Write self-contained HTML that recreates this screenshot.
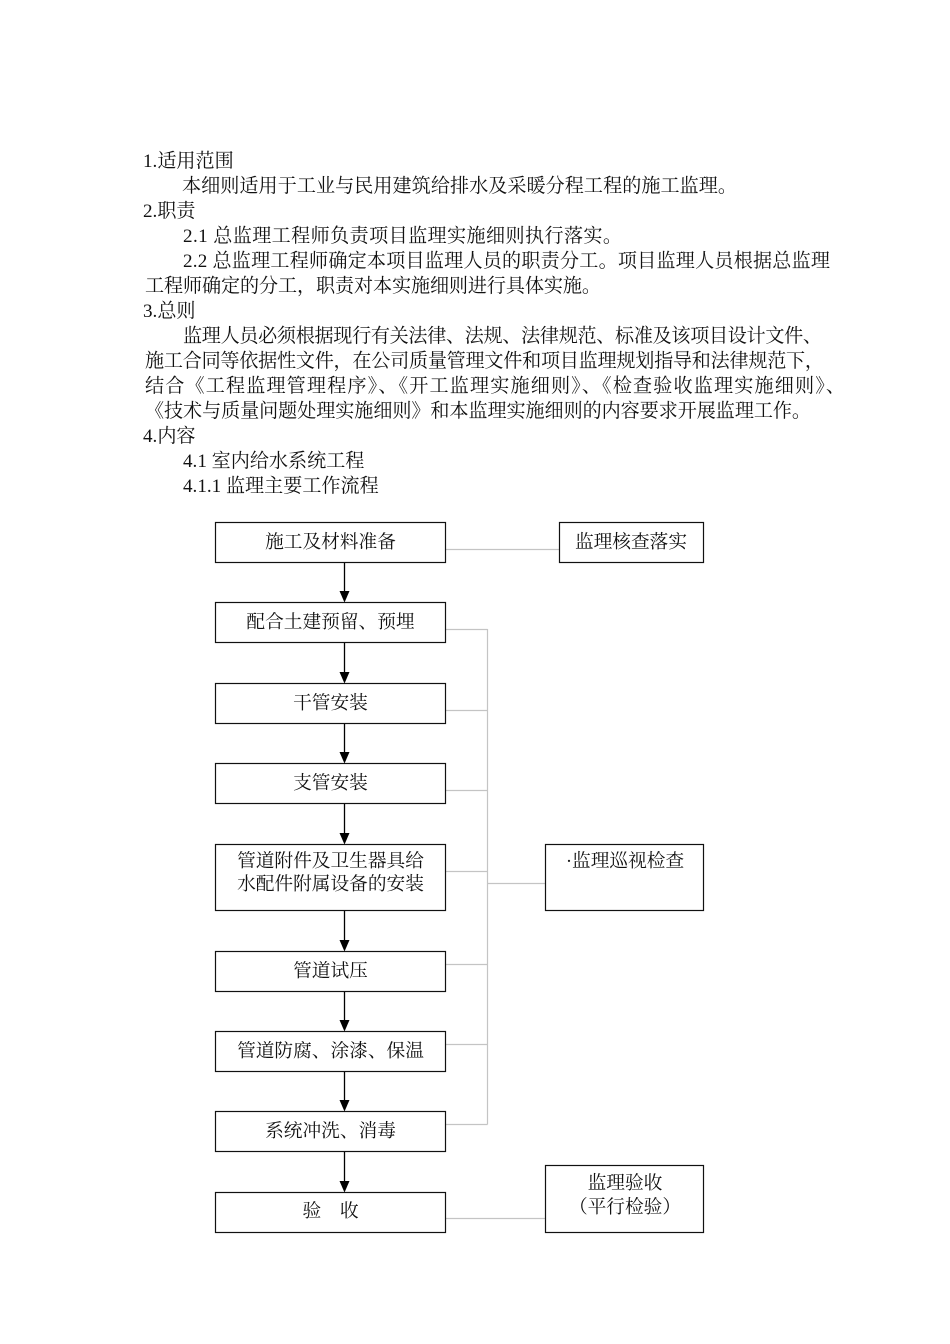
<!DOCTYPE html>
<html>
<head>
<meta charset="utf-8">
<style>
  html,body{margin:0;padding:0;background:#fff;}
  body{width:950px;height:1344px;overflow:hidden;}
  svg{display:block;}
  text{font-family:"Liberation Serif","Noto Serif CJK SC",serif;fill:#111;}
  .b{font-size:19.1px;}
  .f{font-size:18.7px;}
</style>
</head>
<body>
<svg width="950" height="1344" viewBox="0 0 950 1344" xmlns="http://www.w3.org/2000/svg">
  <rect x="0" y="0" width="950" height="1344" fill="#fff"/>

  <!-- Body text -->
  <text class="b" x="143" y="167">1.适用范围</text>
  <text class="b" x="182" y="192" textLength="555" lengthAdjust="spacing">本细则适用于工业与民用建筑给排水及采暖分程工程的施工监理。</text>
  <text class="b" x="143" y="217">2.职责</text>
  <text class="b" x="183" y="242" textLength="439" lengthAdjust="spacing">2.1 总监理工程师负责项目监理实施细则执行落实。</text>
  <text class="b" x="183" y="267" textLength="647" lengthAdjust="spacing">2.2 总监理工程师确定本项目监理人员的职责分工。项目监理人员根据总监理</text>
  <text class="b" x="145" y="292" textLength="456" lengthAdjust="spacing">工程师确定的分工，职责对本实施细则进行具体实施。</text>
  <text class="b" x="143" y="317">3.总则</text>
  <text class="b" x="183" y="342" textLength="639" lengthAdjust="spacing">监理人员必须根据现行有关法律、法规、法律规范、标准及该项目设计文件、</text>
  <text class="b" x="145" y="367" textLength="679" lengthAdjust="spacing">施工合同等依据性文件，在公司质量管理文件和项目监理规划指导和法律规范下，</text>
  <text class="b" x="145" y="392" textLength="700" lengthAdjust="spacing">结合《工程监理管理程序》、《开工监理实施细则》、《检查验收监理实施细则》、</text>
  <text class="b" x="145" y="417" textLength="666" lengthAdjust="spacing">《技术与质量问题处理实施细则》和本监理实施细则的内容要求开展监理工作。</text>
  <text class="b" x="143" y="442">4.内容</text>
  <text class="b" x="183" y="467">4.1 室内给水系统工程</text>
  <text class="b" x="183" y="492">4.1.1 监理主要工作流程</text>

  <!-- Gray connectors -->
  <g stroke="#c4c4c4" stroke-width="1.2" fill="none">
    <line x1="445" y1="549.5" x2="559" y2="549.5"/>
    <line x1="487.5" y1="629" x2="487.5" y2="1124.5"/>
    <line x1="445" y1="629.5" x2="487.5" y2="629.5"/>
    <line x1="445" y1="710.5" x2="487.5" y2="710.5"/>
    <line x1="445" y1="790.5" x2="487.5" y2="790.5"/>
    <line x1="445" y1="871.5" x2="487.5" y2="871.5"/>
    <line x1="445" y1="964.5" x2="487.5" y2="964.5"/>
    <line x1="445" y1="1044.5" x2="487.5" y2="1044.5"/>
    <line x1="445" y1="1124.5" x2="487.5" y2="1124.5"/>
    <line x1="487.5" y1="883.5" x2="545" y2="883.5"/>
    <line x1="445" y1="1218.5" x2="545" y2="1218.5"/>
  </g>

  <!-- Main boxes -->
  <g stroke="#111" stroke-width="1.2" fill="#fff">
    <rect x="215.5" y="522.5" width="230" height="40"/>
    <rect x="215.5" y="602.5" width="230" height="40"/>
    <rect x="215.5" y="683.5" width="230" height="40"/>
    <rect x="215.5" y="763.5" width="230" height="40"/>
    <rect x="215.5" y="844.5" width="230" height="66"/>
    <rect x="215.5" y="951.5" width="230" height="40"/>
    <rect x="215.5" y="1031.5" width="230" height="40"/>
    <rect x="215.5" y="1111.5" width="230" height="40"/>
    <rect x="215.5" y="1192.5" width="230" height="40"/>
    <!-- right boxes -->
    <rect x="559.5" y="522.5" width="144" height="40"/>
    <rect x="545.5" y="844.5" width="158" height="66"/>
    <rect x="545.5" y="1165.5" width="158" height="67"/>
  </g>

  <!-- Arrows -->
  <g stroke="#000" stroke-width="1.3">
    <line x1="344.5" y1="563" x2="344.5" y2="592"/>
    <line x1="344.5" y1="643" x2="344.5" y2="673"/>
    <line x1="344.5" y1="724" x2="344.5" y2="753"/>
    <line x1="344.5" y1="804" x2="344.5" y2="834"/>
    <line x1="344.5" y1="911" x2="344.5" y2="941"/>
    <line x1="344.5" y1="992" x2="344.5" y2="1021"/>
    <line x1="344.5" y1="1072" x2="344.5" y2="1101"/>
    <line x1="344.5" y1="1152" x2="344.5" y2="1182"/>
  </g>
  <g fill="#000">
    <polygon points="339.5,591 349.5,591 344.5,602.5"/>
    <polygon points="339.5,672 349.5,672 344.5,683.5"/>
    <polygon points="339.5,752 349.5,752 344.5,763.5"/>
    <polygon points="339.5,833 349.5,833 344.5,844.5"/>
    <polygon points="339.5,940 349.5,940 344.5,951.5"/>
    <polygon points="339.5,1020 349.5,1020 344.5,1031.5"/>
    <polygon points="339.5,1100 349.5,1100 344.5,1111.5"/>
    <polygon points="339.5,1181 349.5,1181 344.5,1192.5"/>
  </g>

  <!-- Box labels -->
  <g class="f" text-anchor="middle">
    <text class="f" x="330.5" y="548">施工及材料准备</text>
    <text class="f" x="330.5" y="628">配合土建预留、预埋</text>
    <text class="f" x="330.5" y="709">干管安装</text>
    <text class="f" x="330.5" y="789">支管安装</text>
    <text class="f" x="330.5" y="867">管道附件及卫生器具给</text>
    <text class="f" x="330.5" y="890">水配件附属设备的安装</text>
    <text class="f" x="330.5" y="977">管道试压</text>
    <text class="f" x="330.5" y="1057">管道防腐、涂漆、保温</text>
    <text class="f" x="330.5" y="1137">系统冲洗、消毒</text>
    <text class="f" x="330.5" y="1217">验　收</text>

    <text class="f" x="631" y="548">监理核查落实</text>
    <text class="f" x="625" y="867">·监理巡视检查</text>
    <text class="f" x="625" y="1189">监理验收</text>
    <text class="f" x="625" y="1213">（平行检验）</text>
  </g>
</svg>
</body>
</html>
